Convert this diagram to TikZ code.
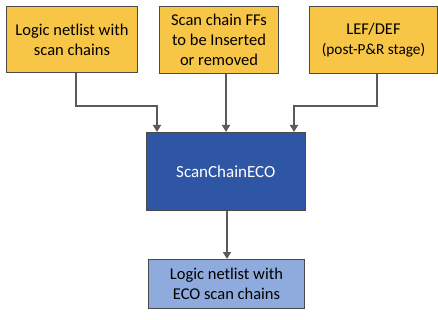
\documentclass[tikz,border=0pt]{standalone}
\usepackage{fontspec}
\setmainfont{Carlito}
\usetikzlibrary{arrows.meta}
\definecolor{boxyellow}{HTML}{F8C646}
\definecolor{boxblue}{HTML}{2F56A5}
\definecolor{boxlight}{HTML}{8FAADC}
\definecolor{edgegray}{HTML}{4A4A4A}
\definecolor{arrowgray}{HTML}{5A5A5A}
\tikzset{
  inbox/.style={draw=edgegray, line width=1pt, fill=boxyellow, align=center, font=\fontsize{16.5}{20}\selectfont, inner sep=0pt, anchor=north west},
  corebox/.style={draw=edgegray, line width=0.6pt, fill=boxblue, text=white, align=center, font=\fontsize{17}{20}\selectfont, inner sep=0pt, anchor=north west},
  outbox/.style={draw=edgegray, line width=1pt, fill=boxlight, align=center, font=\fontsize{16.5}{20}\selectfont, inner sep=0pt, anchor=north west},
  flow/.style={draw=arrowgray, line width=2.2pt, -{Triangle[length=7pt,width=8pt]}},
}
\begin{document}
\begin{tikzpicture}[x=1pt,y=1pt]
\useasboundingbox (0,0) rectangle (438,-320);
\node[inbox, minimum width=131pt, minimum height=66pt] (a) at (6,-6) {Logic netlist with\\scan chains};
\node[inbox, minimum width=119pt, minimum height=67pt] (b) at (159,-6) {Scan chain FFs\\to be Inserted\\or removed};
\node[inbox, minimum width=128pt, minimum height=67pt] (c) at (309,-6) {LEF/DEF\\{\fontsize{15.3}{20}\selectfont(post-P\&R stage)}};
\node[corebox, minimum width=159pt, minimum height=78pt] (d) at (146,-132) {ScanChainECO};
\node[outbox, minimum width=156pt, minimum height=49pt] (e) at (148,-259) {Logic netlist with\\ECO scan chains};
\coordinate (ak) at (76,-106);
\coordinate (ck) at (377,-106);
\draw[flow] (a.south -| ak) -- (ak) -- (157,-106) -- (d.north -| 157,0);
\draw[flow] (b.south -| 226,0) -- (d.north -| 226,0);
\draw[flow] (c.south -| ck) -- (ck) -- (294,-106) -- (d.north -| 294,0);
\draw[flow] (d.south -| 227,0) -- (e.north -| 227,0);
\end{tikzpicture}
\end{document}
